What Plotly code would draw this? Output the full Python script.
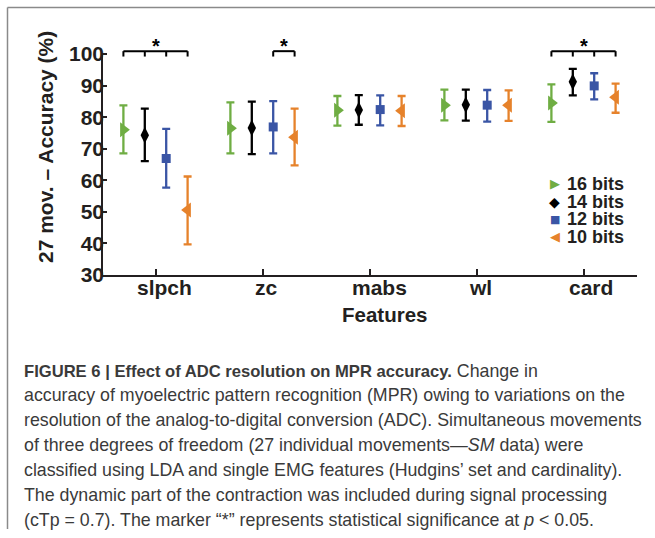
import plotly.graph_objects as go

# ---------------- data ----------------
features = ["slpch", "zc", "mabs", "wl", "card"]
series_names = ["16 bits", "14 bits", "12 bits", "10 bits"]

mean_16 = [76.0, 76.5, 82.2, 83.8, 84.5]
upper_16 = [83.7, 84.7, 86.7, 88.7, 90.4]
lower_16 = [68.5, 68.5, 77.3, 79.0, 78.5]

mean_14 = [74.3, 76.6, 82.3, 83.9, 91.2]
upper_14 = [82.7, 84.9, 87.0, 88.7, 95.3]
lower_14 = [66.1, 68.3, 77.6, 78.9, 86.9]

mean_12 = [66.9, 76.9, 82.4, 83.8, 89.9]
upper_12 = [76.3, 85.1, 86.9, 88.6, 93.9]
lower_12 = [57.7, 68.5, 77.4, 78.6, 85.6]

mean_10 = [50.6, 73.6, 82.0, 83.8, 86.3]
upper_10 = [61.2, 82.7, 86.7, 88.5, 90.6]
lower_10 = [39.7, 64.7, 77.2, 78.8, 81.4]

y_ticks = [30, 40, 50, 60, 70, 80, 90, 100]

# significance brackets: feature -> series joined
sig_feature = ["slpch", "zc", "card"]
sig_series = [["16 bits", "14 bits", "12 bits", "10 bits"],
              ["12 bits", "10 bits"],
              ["16 bits", "14 bits", "12 bits", "10 bits"]]

caption_lines = [
    "<b><span style='font-size:16.6px'>FIGURE 6 | Effect of ADC resolution on MPR accuracy.</span></b> Change in",
    "accuracy of myoelectric pattern recognition (MPR) owing to variations on the",
    "resolution of the analog-to-digital conversion (ADC). Simultaneous movements",
    "of three degrees of freedom (27 individual movements\u2014<i>SM</i> data) were",
    "classified using LDA and single EMG features (Hudgins\u2019 set and cardinality).",
    "The dynamic part of the contraction was included during signal processing",
    "(cTp = 0.7). The marker \u201c*\u201d represents statistical significance at <i>p</i> &lt; 0.05.",
]

# ---------------- styles ----------------
means = [mean_16, mean_14, mean_12, mean_10]
uppers = [upper_16, upper_14, upper_12, upper_10]
lowers = [lower_16, lower_14, lower_12, lower_10]
colors = ["#6fad43", "#000000", "#3a55a5", "#e6822b"]
symbols = ["triangle-right", "diamond-tall", "square", "triangle-left"]
sizes = [13, 12, 9, 13]
offsets = [-0.3, -0.1, 0.1, 0.3]
glyphs = ["\u25B6", "\u25C6", "\u25A0", "\u25C0"]
glyph_sizes = [13, 14, 11, 13]
label_shift = [9, 3.5, 9.5, 4, 7]   # px shift of category labels (as in source)

TXT = "#231f20"
FONT = "Liberation Sans, Arial, sans-serif"

W, H = 655, 538
L, R, T, B = 102, 18, 42, 263
PW, PH = W - L - R, H - T - B
Y_MIN = 30
Y_MAX = 30 + PH / 3.157


def fx(px):
    return (px - L) / PW


def fy(py):
    return 1 - (py - T) / PH


fig = go.Figure()
xs_cat = list(range(1, len(features) + 1))

for i, name in enumerate(series_names):
    m = means[i]
    up = [u - v for u, v in zip(uppers[i], m)]
    dn = [v - l for l, v in zip(lowers[i], m)]
    fig.add_trace(go.Scatter(
        x=[c + offsets[i] for c in xs_cat], y=m, mode="markers", name=name,
        marker=dict(symbol=symbols[i], size=sizes[i], color=colors[i], line=dict(width=0)),
        error_y=dict(type="data", symmetric=False, array=up, arrayminus=dn,
                     color=colors[i], thickness=2.3, width=4),
        showlegend=False,
    ))

# significance brackets and stars
BR_Y, TICK_Y, STAR_Y = 100.9, 99.2, 102.6
for feat, sers in zip(sig_feature, sig_series):
    c = features.index(feat) + 1
    xs = [c + offsets[series_names.index(s)] for s in sers]
    fig.add_shape(type="line", xref="x", yref="y", x0=min(xs), x1=max(xs), y0=BR_Y, y1=BR_Y,
                  line=dict(color="#000", width=2))
    for xv in xs:
        fig.add_shape(type="line", xref="x", yref="y", x0=xv, x1=xv, y0=BR_Y, y1=TICK_Y,
                      line=dict(color="#000", width=2))
    fig.add_annotation(x=(min(xs) + max(xs)) / 2, y=STAR_Y, xref="x", yref="y", text="<b>*</b>",
                       showarrow=False, font=dict(size=20, color="#000", family=FONT),
                       xanchor="center", yanchor="middle")

# y axis line (30..100 only)
fig.add_shape(type="line", xref="paper", yref="y", x0=0, x1=0, y0=30, y1=100,
              line=dict(color=TXT, width=2))

# category labels
for k, f in enumerate(features):
    fig.add_annotation(x=xs_cat[k], y=fy(287.5), xref="x", yref="paper", xshift=label_shift[k],
                       text="<b>%s</b>" % f, showarrow=False, xanchor="center", yanchor="middle",
                       font=dict(size=21, color=TXT, family=FONT))

# legend (manual)
leg_rows = [183.7, 201.5, 219.0, 236.7]
for i, name in enumerate(series_names):
    fig.add_annotation(x=fx(554.5), y=fy(leg_rows[i]), xref="paper", yref="paper",
                       text=glyphs[i], showarrow=False, xanchor="center", yanchor="middle",
                       font=dict(size=glyph_sizes[i], color=colors[i], family="DejaVu Sans"))
    fig.add_annotation(x=fx(565), y=fy(leg_rows[i]), xref="paper", yref="paper",
                       text="<b>%s</b>" % name, showarrow=False, xanchor="left", yanchor="middle",
                       font=dict(size=18, color=TXT, family=FONT))

# axis titles
fig.add_annotation(x=fx(45), y=fy(147), xref="paper", yref="paper",
                   text="<b>27 mov. \u2013 Accuracy (%)</b>", textangle=-90, showarrow=False,
                   xanchor="center", yanchor="middle", font=dict(size=21, color=TXT, family=FONT))
fig.add_annotation(x=fx(384.5), y=fy(314), xref="paper", yref="paper",
                   text="<b>Features</b>", showarrow=False,
                   xanchor="center", yanchor="middle", font=dict(size=20.5, color=TXT, family=FONT))

# caption
cap_y0, cap_dy = 370.5, 24.9
for k, line in enumerate(caption_lines):
    fig.add_annotation(x=fx(21.5), y=fy(cap_y0 + k * cap_dy), xref="paper", yref="paper",
                       text=line, showarrow=False, xanchor="left", yanchor="middle",
                       font=dict(size=17.8, color="#3a3a3a", family=FONT))

# frame
fig.add_shape(type="line", xref="paper", yref="paper", x0=fx(7.5), x1=fx(660), y0=fy(7.5), y1=fy(7.5),
              line=dict(color="#8a8a8a", width=1.5))
fig.add_shape(type="line", xref="paper", yref="paper", x0=fx(7.5), x1=fx(7.5), y0=fy(7.5), y1=fy(529),
              line=dict(color="#8a8a8a", width=1.5))

fig.update_layout(
    width=W, height=H, margin=dict(l=L, r=R, t=T, b=B, pad=0),
    paper_bgcolor="white", plot_bgcolor="white",
    font=dict(family=FONT, color=TXT),
    xaxis=dict(range=[0.5, 5.5], tickvals=xs_cat, showticklabels=False,
               showline=True, linewidth=2, linecolor=TXT, ticks="inside", ticklen=6,
               tickwidth=2, tickcolor=TXT, showgrid=False, zeroline=False),
    yaxis=dict(range=[Y_MIN, Y_MAX], tickvals=y_ticks, ticktext=["<b>%d</b>" % v for v in y_ticks],
               tickfont=dict(size=21, color=TXT, family=FONT), ticklabelstandoff=-3,
               showline=False, ticks="inside", ticklen=5, tickwidth=2, tickcolor=TXT,
               showgrid=False, zeroline=False),
)

fig.write_html("out.html")
